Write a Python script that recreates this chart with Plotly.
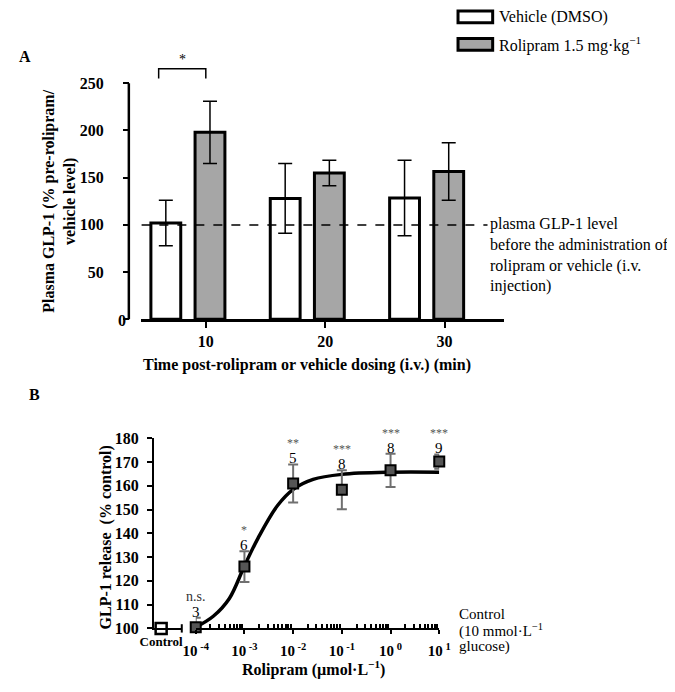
import math
import plotly.graph_objects as go

# page body adds an 8px margin, so the figure is drawn 8px in from the window edge
OX, OY = 8, 8
W, H = 675 - OX, 692 - OY
SERIF = "Liberation Serif"

# ---------------- Panel A data ----------------
times = [10, 20, 30]
vehicle_mean = [102, 128, 128.5]
vehicle_err = [24, 37, 40]
rolipram_mean = [198, 155, 156.5]
rolipram_err = [33, 13.5, 30.5]
a_yticks = [0, 50, 100, 150, 200, 250]
baseline = 100

# ---------------- Panel B data ----------------
dose = [1e-4, 1e-3, 1e-2, 1e-1, 1e0, 1e1]
dose_labels = ["10<sup> -4</sup>", "10<sup> -3</sup>", "10<sup> -2</sup>",
               "10<sup> -1</sup>", "10<sup> 0</sup>", "10<sup> 1</sup>"]
release_mean = [100.5, 126, 161, 158.3, 166.5, 170.2]
release_err = [4, 6.5, 8, 8.2, 7, 3]
n_values = ["3", "6", "5", "8", "8", "9"]
significance = ["n.s.", "*", "**", "***", "***", "***"]
control_label = ["Control"]
control_value = [100]
curve_logdose = [-4, -3.64, -3.31, -3.0, -2.72, -2.32, -1.99, -1.59, -1.0, 0, 1]
curve_release = [100.5, 105.1, 112.6, 126.3, 138, 151.7, 158.6, 162.7, 164.8, 165.7, 165.7]
b_yticks = [100, 110, 120, 130, 140, 150, 160, 170, 180]


def px(x):
    return (x - OX) / W


def py(y):
    return 1 - (y - OY) / H


fig = go.Figure()

# ---- Panel A bars ----
fig.add_trace(go.Bar(
    x=times, y=vehicle_mean, width=2.5, offset=-4.6,
    marker=dict(color="white", line=dict(color="black", width=3)),
    error_y=dict(type="data", array=vehicle_err, color="black", thickness=1.5, width=7),
    xaxis="x", yaxis="y", showlegend=False))
fig.add_trace(go.Bar(
    x=times, y=rolipram_mean, width=2.5, offset=-0.9,
    marker=dict(color="#a6a6a6", line=dict(color="black", width=3)),
    error_y=dict(type="data", array=rolipram_err, color="black", thickness=1.5, width=7),
    xaxis="x", yaxis="y", showlegend=False))

# ---- Panel B ----
fig.add_trace(go.Scatter(
    x=[10 ** v for v in curve_logdose], y=curve_release, mode="lines",
    line=dict(color="black", width=3.5, shape="spline"),
    xaxis="x4", yaxis="y3", showlegend=False))
fig.add_trace(go.Scatter(
    x=dose, y=release_mean, mode="markers", cliponaxis=False,
    marker=dict(symbol="square", size=10, color="#555555", line=dict(color="black", width=2)),
    error_y=dict(type="data", array=release_err, color="#707070", thickness=2, width=5),
    xaxis="x4", yaxis="y3", showlegend=False))
fig.add_trace(go.Scatter(
    x=control_label, y=control_value, mode="markers", cliponaxis=False,
    marker=dict(symbol="square", size=11, color="white", line=dict(color="black", width=2.5)),
    xaxis="x3", yaxis="y3", showlegend=False))

a_xrange = [4.6, 35]
a_yrange = [0, 272]

shapes = []
annotations = []


def note(x, y, text, size=16, xanchor="center", yanchor="middle", **kw):
    annotations.append(dict(x=px(x), y=py(y), xref="paper", yref="paper", text=text,
                            showarrow=False, xanchor=xanchor, yanchor=yanchor,
                            font=dict(size=size, color=kw.pop("color", "black")), **kw))


# Panel A y axis line (0..250)
shapes.append(dict(type="line", xref="paper", yref="y domain",
                   x0=px(119), x1=px(119), y0=0, y1=a_yticks[-1] / a_yrange[1],
                   line=dict(color="black", width=2.5)))
# baseline dashed line
shapes.append(dict(type="line", xref="x", yref="y", x0=a_xrange[0], x1=33.6,
                   y0=baseline, y1=baseline, line=dict(color="black", width=1.5, dash="dash")))
# significance bracket
bx0, bx1, by0, by1 = times[0] - 3.95, times[0], 255, 265.5
shapes.append(dict(type="path", xref="x", yref="y",
                   path=f"M {bx0},{by0} L {bx0},{by1} L {bx1},{by1} L {bx1},{by0}",
                   line=dict(color="black", width=1.5)))
annotations.append(dict(x=(bx0 + bx1) / 2, y=by1, xref="x", yref="y", text="*",
                        showarrow=False, xanchor="center", yanchor="bottom",
                        font=dict(size=14)))

# Legend
for i, (label, fill) in enumerate([("Vehicle (DMSO)", "white"),
                                   ("Rolipram 1.5 mg·kg<sup>−1</sup>", "#a6a6a6")]):
    top = 3 + 28 * i
    shapes.append(dict(type="rect", xref="paper", yref="paper",
                       x0=px(461), x1=px(497), y0=py(top + 12), y1=py(top),
                       fillcolor=fill, line=dict(color="black", width=3)))
    note(502, top + 6, label, xanchor="left")

# Baseline description
note(492, 210, "plasma GLP-1 level<br>before the administration of<br>"
               "rolipram or vehicle (i.v.<br>injection)",
     xanchor="left", yanchor="top", align="left")

# Panel labels
note(11, 50, "<b>A</b>")
note(21, 396, "<b>B</b>")

# Zero label of panel A (sits close to the axis in the original)
note(112, 320, "<b>0</b>", size=16)

# Axis titles
note(47, 198, "<b>Plasma GLP-1 (% pre-rolipram/<br>vehicle level)</b>", textangle=-90)
note(304, 366, "<b>Time post-rolipram or vehicle dosing (i.v.) (min)</b>")
note(95, 543, "<b>GLP-1 release  (% control)</b>", textangle=-90)
note(311, 677, "<b>Rolipram (µmol·L<sup>−1</sup>)</b>")

# Control note
for i, line in enumerate(["Control", "(10 mmol·L<sup>−1</sup>", "glucose)"]):
    note(460, 621 + 17 * i, line, size=15, xanchor="left")

# n values and significance
for d, m, e, n, s in zip(dose, release_mean, release_err, n_values, significance):
    annotations.append(dict(x=math.log10(d), y=m + e, xref="x4", yref="y3", text=n,
                            showarrow=False, xanchor="center", yanchor="bottom", yshift=-4,
                            font=dict(size=15, color="black")))
    annotations.append(dict(x=math.log10(d), y=m + e, xref="x4", yref="y3", text=s,
                            showarrow=False, xanchor="center", yanchor="bottom", yshift=12,
                            font=dict(size=14 if s == "n.s." else 12,
                                      color="#333333" if s == "n.s." else "#555555")))

# break tick at end of control segment
shapes.append(dict(type="line", xref="x3 domain", yref="y3 domain", x0=1, x1=1,
                   y0=-0.022, y1=0.022, line=dict(color="black", width=2)))

minor_vals = [k * 10 ** p for p in range(-4, 1) for k in range(2, 10)]

axis_common = dict(showgrid=False, zeroline=False, linecolor="black", tickcolor="black")

fig.update_layout(
    width=W, height=H, margin=dict(l=0, r=0, t=0, b=0),
    paper_bgcolor="white", plot_bgcolor="rgba(0,0,0,0)",
    font=dict(family=SERIF, color="black"),
    barmode="overlay",
    shapes=shapes, annotations=annotations,
    xaxis=dict(domain=[px(132), px(509)], range=a_xrange, anchor="y",
               showline=True, linewidth=2.5, ticks="outside", ticklen=6, tickwidth=2,
               tickmode="array", tickvals=times, ticktext=[str(t) for t in times],
               tickfont=dict(size=16, weight="bold"), **axis_common),
    yaxis=dict(domain=[py(319), py(319 - a_yrange[1] * 0.968)], range=a_yrange,
               anchor="free", position=px(119), showline=False,
               ticks="outside", ticklen=6, tickwidth=2, ticklabelstandoff=16,
               tickmode="array", tickvals=a_yticks,
               ticktext=[""] + [str(v) for v in a_yticks[1:]],
               tickfont=dict(size=16, weight="bold"), **axis_common),
    xaxis3=dict(domain=[px(145), px(174)], type="category", range=[-0.3, 0.85], anchor="y3",
                showline=True, linewidth=2, ticks="", tickfont=dict(size=13, weight="bold"),
                **axis_common),
    yaxis3=dict(domain=[py(636), py(441)], range=[100, 180], anchor="x3",
                showline=True, linewidth=2, ticks="outside", ticklen=5, tickwidth=2,
                ticklabelstandoff=5,
                tickmode="array", tickvals=b_yticks,
                tickfont=dict(size=16, weight="bold"), **axis_common),
    xaxis4=dict(domain=[px(188.5), px(441.5)], type="log", range=[-4, 1], anchor="y3",
                showline=True, linewidth=2, ticks="outside", ticklen=4, tickwidth=2,
                ticklabelstandoff=4,
                tickmode="array", tickvals=dose, ticktext=dose_labels,
                tickfont=dict(size=15, weight="bold"),
                minor=dict(ticks="inside", ticklen=4, tickwidth=1.5, tickcolor="black",
                           tickmode="array", tickvals=minor_vals),
                **axis_common),
)

fig.write_html("out.html")
